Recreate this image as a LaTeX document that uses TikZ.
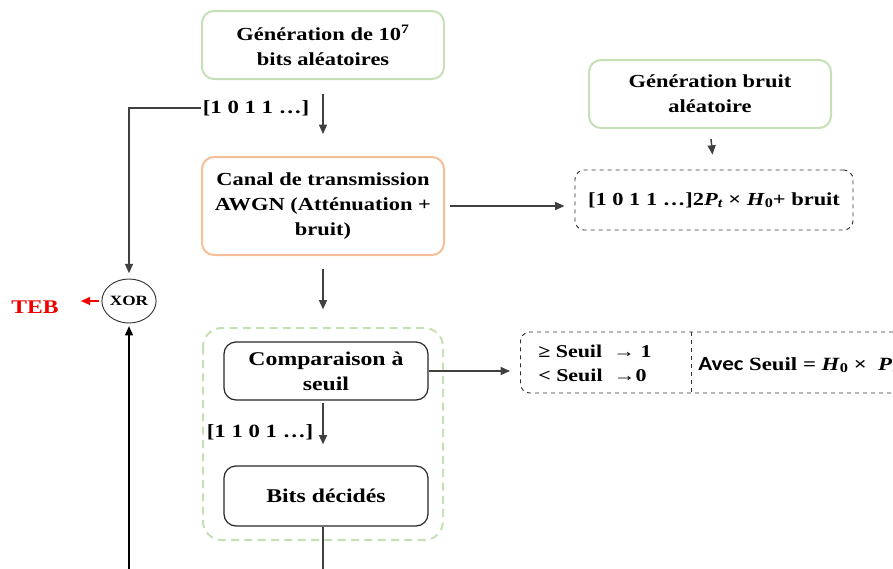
\documentclass[tikz,border=0pt]{standalone}
\usepackage{fontspec}
\setmainfont{Liberation Serif}[FakeStretch=1.22]
\newfontfamily\carlito{Carlito}[FakeStretch=1.15]
\usetikzlibrary{shapes.geometric,arrows.meta}
\definecolor{lgreen}{RGB}{197,224,180}
\definecolor{lorange}{RGB}{246,190,150}
\definecolor{dgray}{RGB}{64,64,64}
\definecolor{tebred}{RGB}{240,0,0}
\newcommand\mysub[1]{\raisebox{-0.3ex}{\scalebox{0.72}{#1}}}
\tikzset{
  box/.style={rounded corners=9pt, align=center, inner sep=0pt,
    font=\bfseries\fontsize{13.8}{18.75}\selectfont},
  gbox/.style={box, draw=lgreen, line width=1.5pt, minimum width=181.5pt, minimum height=51pt},
  obox/.style={box, draw=lorange, line width=1.5pt, minimum width=181.5pt, minimum height=73.5pt},
  kbox/.style={box, draw=black!85, line width=0.9pt, minimum width=153pt,
    font=\bfseries\fontsize{14.6}{18.75}\selectfont},
  dbox/.style={box, draw=black!80, dashed, line width=0.7pt, rounded corners=7pt},
  lbl/.style={font=\bfseries\fontsize{14}{16}\selectfont, inner sep=1pt},
  arrowtip/.style={-{Triangle[length=7pt,width=6pt]}},
  arr/.style={draw=dgray, line width=1.1pt, arrowtip},
}
\begin{document}
\begin{tikzpicture}[x=0.75pt,y=-0.75pt]
\useasboundingbox (0,0) rectangle (893,568);
\clip (0,0) rectangle (893,568);

% group
\draw[lgreen, line width=1.5pt, dash pattern=on 6pt off 4pt, rounded corners=14pt] (203,328) rectangle (443,540);

\node[gbox] (gen) at (323,45) {Génération de 10\textsuperscript{7}\\bits aléatoires};
\node[gbox] (noisegen) at (710,94) {Génération bruit\\aléatoire};
\node[obox] (canal) at (323,206) {Canal de transmission\\AWGN (Atténuation +\\bruit)};
\node[dbox, minimum width=208.5pt, minimum height=45pt] (noisy) at (714,200)
  {[1 0 1 1 …]2\textit{P}\mysub{\textit{t}} × \textit{H}\mysub{0}+ bruit};
\node[kbox, minimum height=43.5pt] (cmp) at (326,371) {Comparaison à\\seuil};
\node[kbox, minimum height=45pt] (bits) at (326,496) {Bits décidés};

\node[dbox, anchor=west, minimum width=292.5pt, minimum height=45.75pt] (thr) at (520,362.5) {};
\draw[black!80, dashed, line width=0.7pt] (691,332) -- (691,393);
\node[anchor=west, align=left, inner sep=0pt, font=\bfseries\fontsize{13.5}{18}\selectfont] (thrL) at (538,363)
  {≥ Seuil \ → 1\\< Seuil \ →0};
\node[anchor=west, inner sep=0pt, font=\bfseries\fontsize{14}{18}\selectfont] (thrR) at (698,365)
  {{\carlito\fontsize{15}{18}\selectfont Avec} Seuil = \textit{H}\mysub{0} × \ \textit{P}\mysub{\textit{t}}};

\node[lbl] (l1) at (256,108) {[1 0 1 1 …]};
\node[lbl] (l2) at (260,432) {[1 1 0 1 …]};

\node[ellipse, draw=black!80, line width=0.7pt, minimum width=39pt, minimum height=33pt, inner sep=0pt,
  font=\bfseries\fontsize{10.6}{12}\selectfont] (xor) at (129,301) {XOR};
\node[font=\bfseries\fontsize{14.5}{16}\selectfont, text=tebred, inner sep=0pt] (teb) at (35,307) {TEB};
\coordinate (bot) at (129,580);
\coordinate (out) at (323,580);

\draw[arr, shorten <=10.5pt, shorten >=16.5pt] (gen.south) -- (canal.north);
\draw[arr, shorten <=7.5pt, shorten >=11.25pt] (noisegen.south) -- (noisy.north);
\draw[arr, shorten <=3.75pt, shorten >=7.5pt] (canal.east) -- (noisy.west |- canal.east);
\draw[arr, shorten <=9.75pt, shorten >=24pt] (canal.south) -- (canal.south |- cmp.north);
\draw[arr, shorten >=7.5pt] (cmp.east) -- (thr.west |- cmp.east);
\draw[arr, shorten <=1.5pt, shorten >=15.75pt] (cmp.south -| canal.south) -- (bits.north -| canal.south);
\draw[draw=dgray, line width=1.1pt] (bits.south -| canal.south) -- (out);
\draw[draw=dgray, line width=0.9pt, arrowtip, shorten >=4pt] (l1.west) -| (xor.north);
\draw[draw=black, line width=0.9pt, arrowtip, shorten >=2pt] (bot) -- (xor.south);
\draw[draw=tebred, line width=1.1pt, arrowtip, shorten <=2pt, shorten >=16.5pt] (xor.west) -- (teb.east |- xor.west);
\end{tikzpicture}
\end{document}
